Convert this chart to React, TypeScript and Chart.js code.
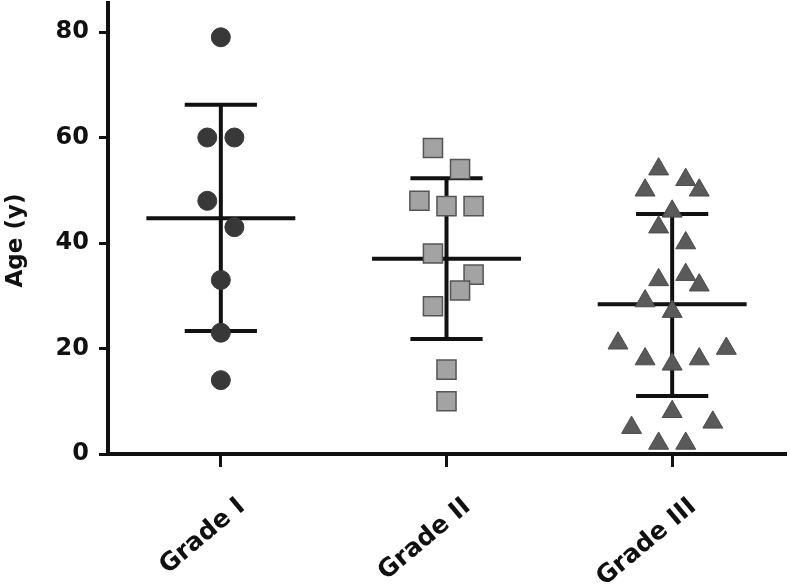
import { useEffect, useRef } from 'react';
import { Chart, registerables } from 'chart.js';

Chart.register(...registerables);

const categories = ['Grade I', 'Grade II', 'Grade III'];
const yTickValues = [0, 20, 40, 60, 80];

// Ages (y), with the horizontal jitter of each point (in category units)
const gradeIAges = [79, 60, 60, 48, 43, 33, 23, 14];
const gradeIJitter = [0, -0.06, 0.06, -0.06, 0.06, 0, 0, 0];

const gradeIIAges = [58, 54, 48, 47, 47, 38, 34, 31, 28, 16, 10];
const gradeIIJitter = [-0.06, 0.06, -0.12, 0, 0.12, -0.06, 0.12, 0.06, -0.06, 0, 0];

const gradeIIIAges = [54, 52, 50, 50, 46, 43, 40, 34, 33, 32, 29, 27, 21, 20, 18, 18, 17, 8, 6, 5, 2, 2];
const gradeIIIJitter = [-0.06, 0.06, -0.12, 0.12, 0, -0.06, 0.06, 0.06, -0.06, 0.12, -0.12, 0, -0.24, 0.24, -0.12, 0.12, 0, 0, 0.18, -0.18, -0.06, 0.06];

// Mean and ±SD bars
const groupMeans = [44.7, 37.0, 28.4];
const groupSdUpper = [66.2, 52.3, 45.5];
const groupSdLower = [23.3, 21.8, 11.0];

const MEAN_HALF = 0.33;
const CAP_HALF = 0.16;
const FONT = '"DejaVu Sans", "Liberation Sans", Arial, sans-serif';

function points(ages: number[], jitter: number[], cat: number) {
  return ages.map((a, i) => ({ x: cat + jitter[i], y: a }));
}

function seg(data: { x: number; y: number }[]) {
  return {
    type: 'line' as const,
    data,
    showLine: true,
    borderColor: '#111111',
    borderWidth: 4,
    pointRadius: 0,
    pointHoverRadius: 0,
    fill: false,
    order: 5,
  };
}

export default function App() {
  const ref = useRef<HTMLCanvasElement | null>(null);

  useEffect(() => {
    if (!ref.current) return;
    const lineSets: any[] = [];
    categories.forEach((_, i) => {
      const c = i + 1;
      lineSets.push(seg([{ x: c - MEAN_HALF, y: groupMeans[i] }, { x: c + MEAN_HALF, y: groupMeans[i] }]));
      lineSets.push(seg([{ x: c - CAP_HALF, y: groupSdUpper[i] }, { x: c + CAP_HALF, y: groupSdUpper[i] }]));
      lineSets.push(seg([{ x: c - CAP_HALF, y: groupSdLower[i] }, { x: c + CAP_HALF, y: groupSdLower[i] }]));
      lineSets.push(seg([{ x: c, y: groupSdLower[i] }, { x: c, y: groupSdUpper[i] }]));
    });

    const chart = new Chart(ref.current, {
      type: 'scatter',
      data: {
        datasets: [
          {
            label: categories[0],
            data: points(gradeIAges, gradeIJitter, 1),
            pointStyle: 'circle',
            pointRadius: 9.5,
            pointHoverRadius: 9.5,
            backgroundColor: '#383838',
            borderColor: '#383838',
            borderWidth: 1,
            order: 1,
          },
          {
            label: categories[1],
            data: points(gradeIIAges, gradeIIJitter, 2),
            pointStyle: 'rect',
            pointRadius: 13.5,
            pointHoverRadius: 13.5,
            backgroundColor: '#a3a3a3',
            borderColor: '#555555',
            borderWidth: 1.5,
            order: 1,
          },
          {
            label: categories[2],
            data: points(gradeIIIAges, gradeIIIJitter, 3),
            pointStyle: 'triangle',
            pointRadius: 11.5,
            pointHoverRadius: 11.5,
            backgroundColor: '#5a5a5a',
            borderColor: '#4a4a4a',
            borderWidth: 1,
            order: 1,
          },
          ...lineSets,
        ] as any,
      },
      options: {
        responsive: false,
        animation: false,
        events: [],
        layout: { autoPadding: false, padding: { top: 3, right: 5, left: 0, bottom: 0 } },
        plugins: {
          legend: { display: false },
          tooltip: { enabled: false },
          title: { display: false },
        },
        scales: {
          x: {
            type: 'linear',
            min: 0.5,
            max: 3.5,
            afterBuildTicks: (scale: any) => {
              scale.ticks = categories.map((_, i) => ({ value: i + 1 }));
            },
            afterFit: (scale: any) => {
              scale.height = 132;
              scale.paddingLeft = 0;
              scale.paddingRight = 0;
            },
            ticks: {
              autoSkip: false,
              minRotation: 40,
              maxRotation: 40,
              padding: 25,
              labelOffset: 21,
              color: '#111111',
              font: { family: FONT, size: 25, weight: 'bold' },
              callback: (v: any) => categories[Math.round(Number(v)) - 1] ?? '',
            },
            grid: {
              display: true,
              drawOnChartArea: false,
              drawTicks: true,
              tickLength: 13,
              color: '#111111',
              lineWidth: 3,
            },
            border: { display: true, color: '#111111', width: 4 },
          },
          y: {
            type: 'linear',
            min: 0,
            max: 85.5,
            afterBuildTicks: (scale: any) => {
              scale.ticks = yTickValues.map((v) => ({ value: v }));
            },
            afterFit: (scale: any) => {
              scale.width = 108;
              scale.paddingTop = 0;
              scale.paddingBottom = 0;
            },
            ticks: {
              padding: 10,
              color: '#111111',
              font: { family: FONT, size: 24, weight: 'bold' },
            },
            grid: {
              display: true,
              drawOnChartArea: false,
              drawTicks: true,
              tickLength: 9,
              color: '#111111',
              lineWidth: 3,
            },
            border: { display: true, color: '#111111', width: 4 },
            title: {
              display: true,
              text: 'Age (y)   ',
              color: '#111111',
              font: { family: FONT, size: 23, weight: 'bold' },
              padding: { top: 2, bottom: 0 },
            },
          },
        },
      } as any,
    });
    return () => chart.destroy();
  }, []);

  return (
    <div style={{ position: 'fixed', left: 0, top: 0, width: 790, height: 586, background: '#ffffff' }}>
      <canvas ref={ref} width={790} height={586} style={{ display: 'block', width: 790, height: 586 }} />
    </div>
  );
}
